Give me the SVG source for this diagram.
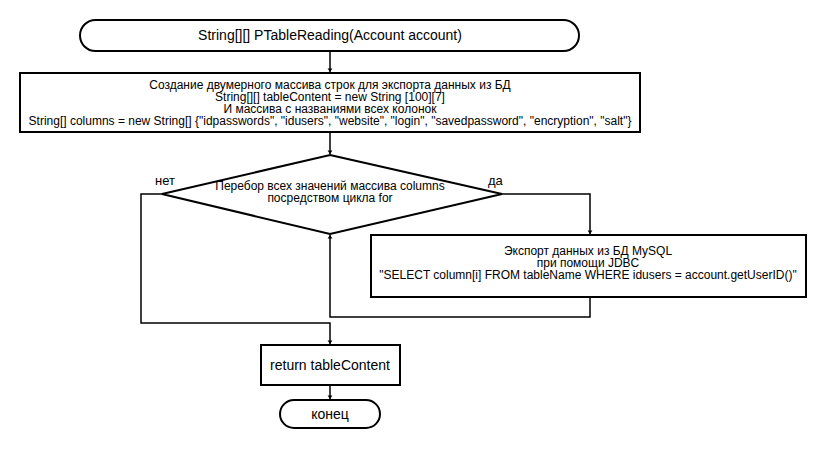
<svg xmlns="http://www.w3.org/2000/svg" width="830" height="450" viewBox="0 0 830 450">
<style>
.shape{fill:#fff;stroke:#000;stroke-width:2}
.t{font-family:"Liberation Sans",Arial,sans-serif;font-size:12px;fill:#000;text-anchor:middle}
.big{font-size:14px}
.mid{font-size:14px}
.lbl{font-family:"Liberation Sans",Arial,sans-serif;font-size:13px;fill:#000}
.conn{fill:none;stroke:#000;stroke-width:1.5}
</style>
<defs>
<marker id="arr" viewBox="0 0 6 10" refX="6" refY="5" markerWidth="4" markerHeight="6" markerUnits="userSpaceOnUse" orient="auto">
<path d="M0,1 L6,5 L0,9 Z" fill="#000"/>
</marker>
</defs>
<rect width="830" height="450" fill="#fff"/>
<g id="connectors">
<path class="conn" d="M330,51 V72" marker-end="url(#arr)"/>
<path class="conn" d="M330,132 V154" marker-end="url(#arr)"/>
<path class="conn" d="M502,194 H590 V234" marker-end="url(#arr)"/>
<path class="conn" d="M590,297 V317 H330 V235" marker-end="url(#arr)"/>
<path class="conn" d="M162,194 H141 V323 H330 V344" marker-end="url(#arr)"/>
<path class="conn" d="M330,385 V399" marker-end="url(#arr)"/>
<text class="lbl" x="155" y="185">нет</text>
<text class="lbl" x="488" y="185">да</text>
</g>
<g id="start">
<rect class="shape" x="80" y="20" width="499" height="31" rx="15.5" ry="15.5"/>
<text class="t big" x="330" y="40">String[][] PTableReading(Account account)</text>
</g>
<g id="init">
<rect class="shape" x="20" y="73" width="620" height="59"/>
<text class="t" x="330" y="89">Создание двумерного массива строк для экспорта данных из БД</text>
<text class="t" x="330" y="101">String[][] tableContent = new String [100][7]</text>
<text class="t" x="330" y="113">И массива с названиями всех колонок</text>
<text class="t" x="330" y="125">String[] columns = new String[] {"idpasswords", "idusers", "website", "login", "savedpassword", "encryption", "salt"}</text>
</g>
<g id="loop">
<polygon class="shape" points="330,155 502,194 330,234 162,194"/>
<text class="t" x="330" y="190">Перебор всех значений массива columns</text>
<text class="t" x="330" y="202">посредством цикла for</text>
</g>
<g id="export">
<rect class="shape" x="371" y="235" width="435" height="62"/>
<text class="t" x="588" y="255">Экспорт данных из БД MySQL</text>
<text class="t" x="588" y="267">при помощи JDBC</text>
<text class="t" x="588" y="279">"SELECT column[i] FROM tableName WHERE idusers = account.getUserID()"</text>
</g>
<g id="return">
<rect class="shape" x="261" y="345" width="139" height="40"/>
<text class="t mid" x="330" y="370">return tableContent</text>
</g>
<g id="end">
<rect class="shape" x="280" y="400" width="100" height="28" rx="14" ry="14"/>
<text class="t mid" x="330" y="419">конец</text>
</g>
</svg>
